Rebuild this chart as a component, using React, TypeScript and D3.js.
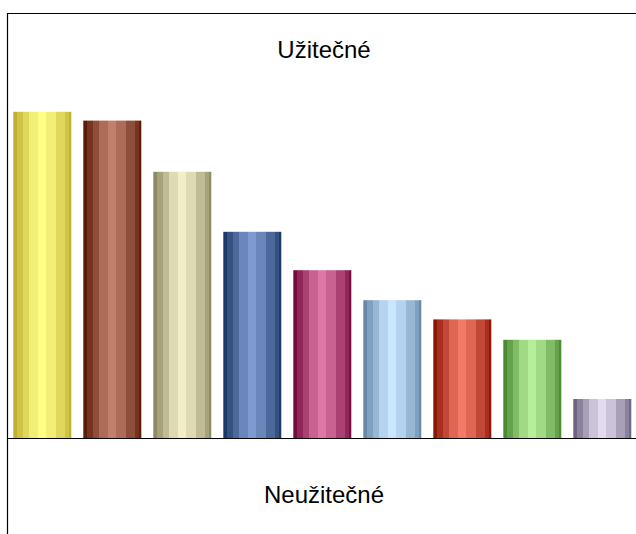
import React from "react";
import * as d3 from "d3";

const categories = ["A", "B", "C", "D", "E", "F", "G", "H", "I"];
const values = [8.18, 7.96, 6.68, 5.18, 4.22, 3.47, 2.99, 2.48, 1.0];
const darkColors = ["#c0b030", "#5c1c08", "#8c8a62", "#1c3868", "#760c3e", "#6888aa", "#8e1404", "#4a8a30", "#6e6480"];
const lightColors = ["#ffff88", "#c0806c", "#f2eec8", "#7e9ad0", "#de76a6", "#c8e6ff", "#f47a68", "#b6ee9a", "#e2dcee"];
const topLabel = "Užitečné";
const bottomLabel = "Neužitečné";

const W = 636;
const H = 534;
const stripeEdges = [0, 0.07, 0.16, 0.27, 0.43, 0.57, 0.74, 0.89, 0.96, 1];
const stripeLevels = [0, 0.25, 0.5, 0.8, 1, 0.8, 0.5, 0.25, 0.03];

export default function App() {
  const x = d3
    .scaleBand<string>()
    .domain(categories)
    .range([13.3, 13.3 + 70 * 9 - 12])
    .paddingInner(12 / 70)
    .paddingOuter(0);
  const y = d3.scaleLinear().domain([0, 10]).range([439, 39]);

  return (
    <svg
      width={W}
      height={H}
      style={{ position: "absolute", left: 0, top: 0, display: "block" }}
      fontFamily="'Liberation Sans', Arial, sans-serif"
    >
      <defs>
        {categories.map((c, i) => {
          const interp = d3.interpolateRgb(darkColors[i], lightColors[i]);
          const stops: React.ReactElement[] = [];
          stripeLevels.forEach((lv, k) => {
            const col = interp(lv);
            stops.push(<stop key={`a${k}`} offset={stripeEdges[k]} stopColor={col} />);
            stops.push(<stop key={`b${k}`} offset={stripeEdges[k + 1]} stopColor={col} />);
          });
          return (
            <linearGradient key={c} id={`g${i}`} x1="0" x2="1" y1="0" y2="0">
              {stops}
            </linearGradient>
          );
        })}
      </defs>
      <rect x={0} y={0} width={W} height={H} fill="#fff" />
      {categories.map((c, i) => (
        <rect
          key={c}
          x={x(c)}
          y={y(values[i])}
          width={x.bandwidth()}
          height={y(0) - y(values[i])}
          fill={`url(#g${i})`}
        />
      ))}
      <line x1={7} x2={W} y1={438.5} y2={438.5} stroke="#000" strokeWidth={1.2} />
      <line x1={7} x2={W} y1={13.5} y2={13.5} stroke="#000" strokeWidth={1.2} />
      <line x1={7.5} x2={7.5} y1={13} y2={H} stroke="#000" strokeWidth={1.2} />
      <text x={324} y={58} textAnchor="middle" fontSize={24} fill="#000">
        {topLabel}
      </text>
      <text x={324} y={503} textAnchor="middle" fontSize={24} fill="#000">
        {bottomLabel}
      </text>
    </svg>
  );
}
